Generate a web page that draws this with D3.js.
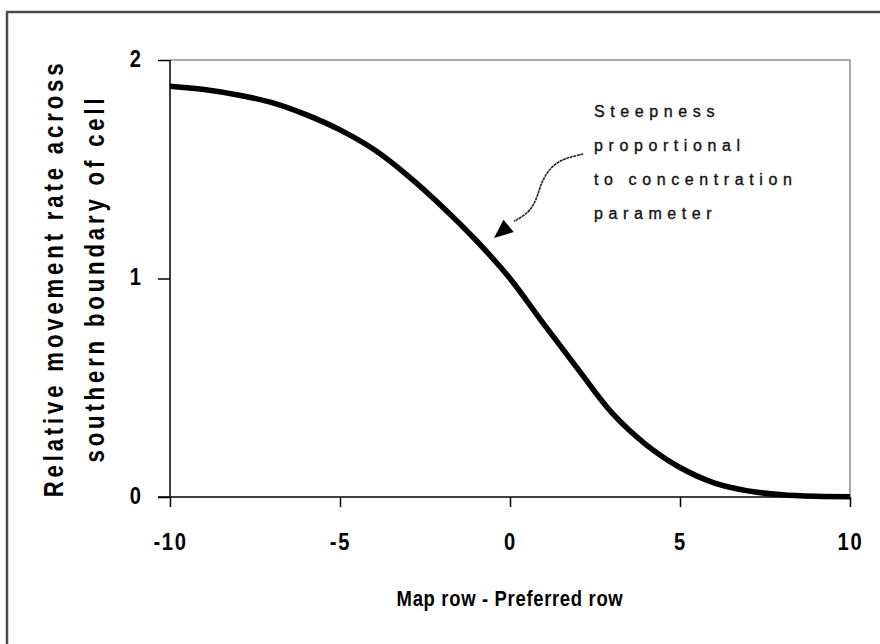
<!DOCTYPE html>
<html>
<head>
<meta charset="utf-8">
<script src="https://cdn.jsdelivr.net/npm/d3@7"></script>
<style>
  html, body { margin: 0; padding: 0; background: #fff; }
  #chart { width: 880px; height: 644px; }
  .bold { font-family: "Liberation Sans", Arial, sans-serif; font-weight: bold; fill: #000; }
</style>
</head>
<body>
<div id="chart"></div>
<script>
// values
const rowDiff = [-10, -9, -8, -7, -6, -5, -4, -3, -2, -1, 0, 1, 2, 3, 4, 5, 6, 7, 8, 9, 10];
const moveRate = [1.88, 1.865, 1.84, 1.805, 1.75, 1.68, 1.59, 1.47, 1.33, 1.175, 1.0,
                  0.79, 0.585, 0.385, 0.24, 0.135, 0.065, 0.028, 0.01, 0.003, 0.001];
const xTicks = [-10, -5, 0, 5, 10];
const yTicks = [0, 1, 2];
const xTitle = "Map row - Preferred row";
const yTitle = ["Relative movement rate across", "southern boundary of cell"];
const noteLines = ["Steepness", "proportional", "to concentration", "parameter"];
// annotation anchor and squiggle, in data units
const noteAt = [2.47, 1.74];
const squiggle = [[2.15, 1.57], [1.75, 1.555], [1.40, 1.535], [1.10, 1.49], [0.90, 1.43], [0.78, 1.36], [0.55, 1.30], [0.12, 1.262]];
const arrowTip = [-0.47, 1.185];

const W = 880, H = 644;
const margin = {top: 60, right: 30, bottom: 147, left: 170};
const narrow = 0.84;   // squeeze for the condensed look of the labels

const svg = d3.select("#chart").append("svg")
  .attr("width", W).attr("height", H);

// outer frame (only top and left edges show)
svg.append("path")
  .attr("d", `M7,${H} V12 H${W}`)
  .attr("fill", "none")
  .attr("stroke", "#4a4a4a")
  .attr("stroke-width", 2.5);

const x = d3.scaleLinear().domain([-10, 10]).range([margin.left, W - margin.right]);
const y = d3.scaleLinear().domain([0, 2]).range([H - margin.bottom, margin.top]);

// plot area border, top and right
svg.append("path")
  .attr("d", `M${x(-10)},${y(2)} H${x(10)} V${y(0)}`)
  .attr("fill", "none")
  .attr("stroke", "#ababab")
  .attr("stroke-width", 2);

const xAxis = svg.append("g")
  .attr("transform", `translate(0,${y(0)})`)
  .call(d3.axisBottom(x).tickValues(xTicks).tickSize(10).tickFormat(d => String(d)));
xAxis.select(".domain").remove();
xAxis.append("line")
  .attr("x1", x(-10) - 12).attr("x2", x(10))
  .attr("stroke", "#000").attr("stroke-width", 1.5);
xAxis.selectAll(".tick line").attr("stroke", "#000").attr("stroke-width", 1.5);
xAxis.selectAll(".tick text")
  .attr("class", "bold")
  .attr("y", 0).attr("dy", null)
  .attr("transform", `translate(0,53) scale(${narrow},1)`)
  .style("font-size", "24px")
  .style("letter-spacing", "2px");

const yAxis = svg.append("g")
  .attr("transform", `translate(${x(-10)},0)`)
  .call(d3.axisLeft(y).tickValues(yTicks).tickSize(12).tickFormat(d => String(d)));
yAxis.select(".domain").remove();
yAxis.append("line")
  .attr("y1", y(0)).attr("y2", y(2))
  .attr("stroke", "#000").attr("stroke-width", 1.5);
yAxis.selectAll(".tick line").attr("stroke", "#000").attr("stroke-width", 1.5);
yAxis.selectAll(".tick text")
  .attr("class", "bold")
  .attr("x", 0).attr("dy", null).attr("y", 0)
  .attr("transform", `translate(-29,6) scale(${narrow},1)`)
  .style("font-size", "24px");

// curve
const line = d3.line()
  .x((d, i) => x(rowDiff[i]))
  .y(d => y(d))
  .curve(d3.curveCatmullRom.alpha(0.5));

svg.append("path")
  .datum(moveRate)
  .attr("d", line)
  .attr("fill", "none")
  .attr("stroke", "#000")
  .attr("stroke-width", 5.5)
  .attr("stroke-linejoin", "round");

// axis titles
svg.append("text")
  .attr("class", "bold")
  .attr("transform", `translate(${x(0)},606) scale(${narrow},1)`)
  .attr("text-anchor", "middle")
  .style("font-size", "22px")
  .style("letter-spacing", "0.8px")
  .text(xTitle);

const yMid = (y(0) + y(2)) / 2;
svg.append("g")
  .selectAll("text")
  .data(yTitle)
  .join("text")
  .attr("class", "bold")
  .attr("transform", (d, i) => `translate(${63 + i * 41},${yMid}) rotate(-90) scale(0.82,1)`)
  .attr("text-anchor", "middle")
  .style("font-size", "27px")
  .style("letter-spacing", "4.7px")
  .text(d => d);

// annotation
svg.append("g")
  .selectAll("text")
  .data(noteLines)
  .join("text")
  .attr("x", x(noteAt[0]))
  .attr("y", (d, i) => y(noteAt[1]) + i * 34)
  .style("font-family", "'Liberation Sans', Arial, sans-serif")
  .style("font-size", "16px")
  .style("letter-spacing", "5.6px")
  .attr("fill", "#111")
  .attr("stroke", "#111")
  .attr("stroke-width", 0.35)
  .text(d => d);

svg.append("path")
  .datum(squiggle)
  .attr("d", d3.line().x(d => x(d[0])).y(d => y(d[1])).curve(d3.curveBasis))
  .attr("fill", "none")
  .attr("stroke", "#222")
  .attr("stroke-width", 1.6)
  .attr("stroke-dasharray", "3,0.6");

// arrow head
const tail = squiggle[squiggle.length - 1];
const tx = x(arrowTip[0]), ty = y(arrowTip[1]);
const bx = x(tail[0]), by = y(tail[1]);
const ang = Math.atan2(ty - by, tx - bx);
const len = 19, half = 8;
const baseX = tx - len * Math.cos(ang), baseY = ty - len * Math.sin(ang);
svg.append("polygon")
  .attr("points", [
    [tx, ty],
    [baseX + half * Math.sin(ang), baseY - half * Math.cos(ang)],
    [baseX - half * Math.sin(ang), baseY + half * Math.cos(ang)]
  ].map(p => p.join(",")).join(" "))
  .attr("fill", "#000");
</script>
</body>
</html>
